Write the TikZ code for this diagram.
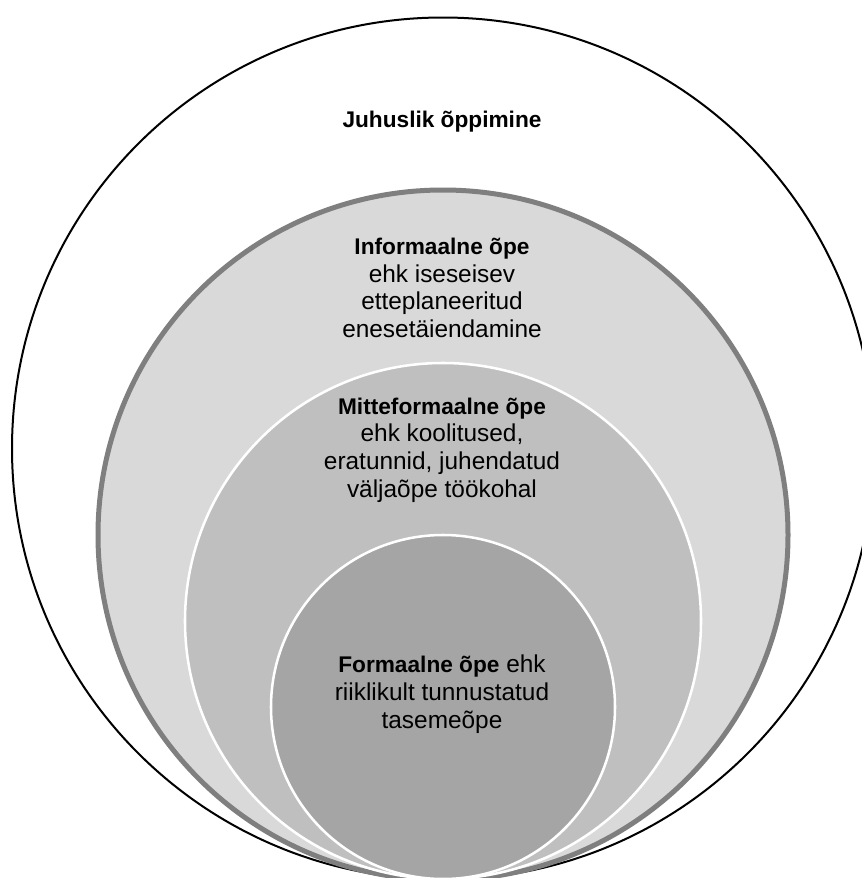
\documentclass[tikz,border=0pt]{standalone}
\usepackage{fontspec}
\setmainfont{Liberation Sans}
\newcommand{\hd}[1]{{\fontsize{17}{20.8}\selectfont\bfseries #1}}
\begin{document}
\begin{tikzpicture}[x=0.75pt,y=-0.75pt,
  ring/.style={circle,inner sep=0pt,outer sep=0pt},
  lbl/.style={align=center,font=\fontsize{18.3}{20.8}\selectfont,text=black,inner sep=0pt}]
\useasboundingbox (0,0) rectangle (862,878);
\clip (0,0) rectangle (862,878);
\definecolor{infofill}{HTML}{D9D9D9}
\definecolor{infoline}{HTML}{7F7F7F}
\definecolor{mittefill}{HTML}{BFBFBF}
\definecolor{formfill}{HTML}{A5A5A5}
\node[ring,draw=black,line width=1.5pt,fill=white,minimum size=646.5pt] (outer) at (443,448.5) {};
\node[ring,draw=infoline,line width=3.75pt,fill=infofill,minimum size=517.5pt] (info) at (443,535) {};
\node[ring,draw=white,line width=1.9pt,fill=mittefill,minimum size=387pt] (mitte) at (443,621) {};
\node[ring,draw=white,line width=1.9pt,fill=formfill,minimum size=258pt] (form) at (443,707) {};
\node[lbl] (tjuh) at (442,122) {\hd{Juhuslik õppimine}};
\node[lbl] (tinfo) at (442,288) {\hd{Informaalne õpe}\\ehk iseseisev\\etteplaneeritud\\enesetäiendamine};
\node[lbl] (tmitte) at (442,450) {\hd{Mitteformaalne õpe}\\ehk koolitused,\\eratunnid, juhendatud\\väljaõpe töökohal};
\node[lbl] (tform) at (442,694) {\hd{Formaalne õpe} ehk\\riiklikult tunnustatud\\tasemeõpe};
\end{tikzpicture}
\end{document}
